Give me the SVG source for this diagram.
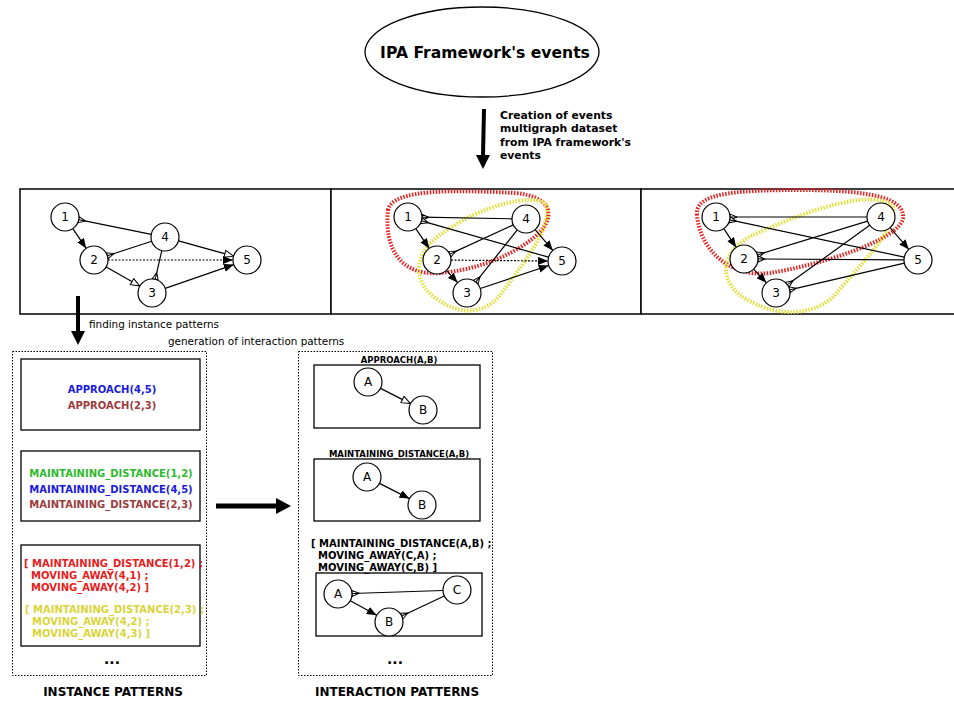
<svg xmlns="http://www.w3.org/2000/svg" width="954" height="702" viewBox="0 0 954 702">
<style>
  text { font-family: "DejaVu Sans", "Liberation Sans", sans-serif; fill: #000; }
  .nd circle { fill: #fff; stroke: #000; stroke-width: 1.2; }
  .nd text { font-size: 12px; text-anchor: middle; }
  .e { stroke: #000; stroke-width: 1.2; fill: none; }
  .f { marker-end: url(#arrF); }
  .o { marker-end: url(#arrO); }
  .m { marker-end: url(#away); }
  .dot { stroke-dasharray: 2 1.5; }
  .panel { fill: #fff; stroke: #000; stroke-width: 1.5; }
  .box { fill: #fff; stroke: #000; stroke-width: 1.3; }
  .dbox { fill: none; stroke: #000; stroke-width: 1; stroke-dasharray: 1.5 1.5; }
  .pt { font-size: 10px; font-weight: bold; }
  .title { font-size: 12px; font-weight: bold; text-anchor: middle; }
  .red { fill: none; stroke: #e62020; stroke-width: 4; stroke-dasharray: 1.5 1.5; }
  .yel { fill: none; stroke: #e3df3a; stroke-width: 4; stroke-dasharray: 1.5 1.5; }
</style>
<defs>
  <marker id="arrF" markerUnits="userSpaceOnUse" markerWidth="11" markerHeight="9" refX="10" refY="4" orient="auto">
    <path d="M0,0 L10,4 L0,8 z" fill="#000"/>
  </marker>
  <marker id="arrO" markerUnits="userSpaceOnUse" markerWidth="12" markerHeight="10" refX="10" refY="4.5" orient="auto">
    <path d="M1,1 L10,4.5 L1,8 z" fill="#fff" stroke="#000" stroke-width="1"/>
  </marker>
  <marker id="away" markerUnits="userSpaceOnUse" markerWidth="10" markerHeight="10" refX="8" refY="4" orient="auto">
    <path d="M1,4 L8,1 L8,7 z M1,4 L8,4" fill="#fff" stroke="#000" stroke-width="1"/>
  </marker>
</defs>

<!-- source ellipse -->
<g id="ipa">
  <ellipse cx="482" cy="52" rx="117" ry="45" fill="#fff" stroke="#000" stroke-width="1.3"/>
  <text x="485" y="58" font-size="15.6" font-weight="bold" text-anchor="middle">IPA Framework's events</text>
</g>

<!-- graph panels -->
<g id="panel-left"><rect class="panel" x="20" y="189" width="311" height="125"/></g>
<g id="panel-mid"><rect class="panel" x="331" y="189" width="310" height="125"/></g>
<g id="panel-right"><rect class="panel" x="641" y="189" width="320" height="125"/></g>

<!-- pattern containers -->
<g id="instance-boxes">
  <rect class="dbox" x="12.5" y="351.5" width="194" height="324"/>
  <rect class="box" x="21" y="359" width="179" height="71"/>
  <rect class="box" x="21" y="451" width="179" height="70"/>
  <rect class="box" x="21" y="545" width="179" height="101"/>
</g>
<g id="interaction-boxes">
  <rect class="dbox" x="298.5" y="351.5" width="194" height="324"/>
  <rect class="box" x="314" y="365" width="166" height="63"/>
  <rect class="box" x="314" y="459" width="166" height="62"/>
  <rect class="box" x="316" y="573" width="166" height="63"/>
</g>

<!-- highlighted instance regions -->
<g id="hulls">
  <path class="red" d="M388,210 C392,188 460,190 515,193 C550,196 556,214 540,232 C520,252 480,270 440,273 C400,276 384,248 388,210 Z"/>
  <path class="yel" d="M546,204 C532,193 480,205 440,235 C410,256 414,286 440,301 C462,316 487,313 501,294 C522,265 553,228 546,204 Z"/>
  <path class="red" d="M697,215 C695,194 730,190 800,190 C870,190 905,198 903,218 C900,240 820,265 770,273 C730,278 700,250 697,215 Z"/>
  <path class="yel" d="M892,205 C872,191 820,205 760,232 C715,250 718,286 750,301 C780,318 815,315 835,295 C860,265 902,224 892,205 Z"/>
</g>

<g id="connectors">
  <!-- main flow arrows -->
  <line x1="484" y1="109" x2="483" y2="156" stroke="#000" stroke-width="4"/>
  <path d="M476,155 L490,155 L483,169 z" fill="#000"/>
  <line x1="78" y1="296" x2="78" y2="333" stroke="#000" stroke-width="4"/>
  <path d="M71,331 L85,331 L78,345 z" fill="#000"/>
  <line x1="216" y1="506" x2="278" y2="506" stroke="#000" stroke-width="5"/>
  <path d="M276,498 L291,506 L276,514 z" fill="#000"/>

  <!-- left multigraph -->
  <line class="e f" x1="72.8" y1="228.6" x2="86.2" y2="248.4"/>
  <line class="e m" x1="151.3" y1="234.3" x2="78.7" y2="219.7"/>
  <line class="e m" x1="151.7" y1="241.3" x2="107.3" y2="255.7"/>
  <line class="e o" x1="178.5" y1="240.8" x2="233.5" y2="256.2"/>
  <line class="e f dot" x1="108" y1="260" x2="233" y2="260"/>
  <line class="e o" x1="106.2" y1="266.9" x2="139.8" y2="286.1"/>
  <line class="e m" x1="161.8" y1="250.6" x2="155.2" y2="279.4"/>
  <line class="e f" x1="165.2" y1="288.4" x2="233.8" y2="264.6"/>

  <!-- middle multigraph -->
  <line class="e f" x1="415.8" y1="228.6" x2="429.2" y2="248.4"/>
  <line class="e m" x1="512" y1="218.8" x2="422" y2="217.2"/>
  <line class="e m" x1="548.5" y1="257.2" x2="421.5" y2="220.8"/>
  <line class="e m" x1="513.3" y1="224.9" x2="449.7" y2="254.1"/>
  <line class="e f" x1="535.1" y1="229.6" x2="552.9" y2="250.4"/>
  <line class="e f dot" x1="451" y1="260.1" x2="548" y2="261"/>
  <line class="e f" x1="446.4" y1="270.4" x2="457.6" y2="282.6"/>
  <line class="e m" x1="517.3" y1="229.9" x2="475.7" y2="282.1"/>
  <line class="e f" x1="480.3" y1="288.5" x2="548.7" y2="265.5"/>

  <!-- right multigraph -->
  <line class="e f" x1="723.8" y1="228.6" x2="736.2" y2="247.4"/>
  <line class="e m" x1="867" y1="217" x2="730" y2="217"/>
  <line class="e m" x1="904.3" y1="257.1" x2="729.7" y2="219.9"/>
  <line class="e m" x1="867.6" y1="221.1" x2="757.4" y2="254.9"/>
  <line class="e m" x1="904" y1="259.9" x2="758" y2="259"/>
  <line class="e f" x1="890.1" y1="227.6" x2="908.9" y2="249.4"/>
  <line class="e f" x1="753.6" y1="269.2" x2="766.4" y2="282.8"/>
  <line class="e m" x1="869.7" y1="225.2" x2="787.3" y2="284.8"/>
  <line class="e m" x1="904.4" y1="263.2" x2="789.6" y2="289.8"/>

  <!-- interaction pattern edges -->
  <line class="e o" x1="380.5" y1="388.4" x2="410.5" y2="403.6"/>
  <line class="e f" x1="379.5" y1="483.4" x2="409.5" y2="498.6"/>
  <line class="e f" x1="350.3" y1="600.7" x2="376.7" y2="615.3"/>
  <line class="e m" x1="443" y1="590.5" x2="352" y2="593.5"/>
  <line class="e m" x1="444.3" y1="596" x2="401.7" y2="616"/>
</g>

<!-- flow labels -->
<g id="labels">
  <text x="500" y="119" font-size="10.8" font-weight="bold">Creation of events</text>
  <text x="500" y="132" font-size="10.8" font-weight="bold">multigraph dataset</text>
  <text x="500" y="146" font-size="10.8" font-weight="bold">from IPA framework's</text>
  <text x="500" y="159" font-size="10.8" font-weight="bold">events</text>
  <text x="89" y="328" font-size="10.4">finding instance patterns</text>
  <text x="168" y="345" font-size="10.4">generation of interaction patterns</text>
</g>

<!-- left graph nodes -->
<g id="L1" class="nd"><circle cx="65" cy="217" r="14"/><text x="65" y="221">1</text></g>
<g id="L2" class="nd"><circle cx="94" cy="260" r="14"/><text x="94" y="264">2</text></g>
<g id="L3" class="nd"><circle cx="152" cy="293" r="14"/><text x="152" y="297">3</text></g>
<g id="L4" class="nd"><circle cx="165" cy="237" r="14"/><text x="165" y="241">4</text></g>
<g id="L5" class="nd"><circle cx="247" cy="260" r="14"/><text x="247" y="264">5</text></g>

<!-- middle graph nodes -->
<g id="M1" class="nd"><circle cx="408" cy="217" r="14"/><text x="408" y="221">1</text></g>
<g id="M2" class="nd"><circle cx="437" cy="260" r="14"/><text x="437" y="264">2</text></g>
<g id="M3" class="nd"><circle cx="467" cy="293" r="14"/><text x="467" y="297">3</text></g>
<g id="M4" class="nd"><circle cx="526" cy="219" r="14"/><text x="526" y="223">4</text></g>
<g id="M5" class="nd"><circle cx="562" cy="261" r="14"/><text x="562" y="265">5</text></g>

<!-- right graph nodes -->
<g id="R1" class="nd"><circle cx="716" cy="217" r="14"/><text x="716" y="221">1</text></g>
<g id="R2" class="nd"><circle cx="744" cy="259" r="14"/><text x="744" y="263">2</text></g>
<g id="R3" class="nd"><circle cx="776" cy="293" r="14"/><text x="776" y="297">3</text></g>
<g id="R4" class="nd"><circle cx="881" cy="217" r="14"/><text x="881" y="221">4</text></g>
<g id="R5" class="nd"><circle cx="918" cy="260" r="14"/><text x="918" y="264">5</text></g>

<!-- instance pattern texts -->
<g id="instance-patterns">
  <text class="pt" x="112" y="393" text-anchor="middle" style="fill:#1a1adc">APPROACH(4,5)</text>
  <text class="pt" x="112" y="409" text-anchor="middle" style="fill:#9c3c3c">APPROACH(2,3)</text>
  <text class="pt" x="111" y="477" text-anchor="middle" style="fill:#2eb82e">MAINTAINING_DISTANCE(1,2)</text>
  <text class="pt" x="111" y="493" text-anchor="middle" style="fill:#1a1adc">MAINTAINING_DISTANCE(4,5)</text>
  <text class="pt" x="111" y="508" text-anchor="middle" style="fill:#9c3c3c">MAINTAINING_DISTANCE(2,3)</text>
  <text class="pt" x="24" y="567" style="fill:#e62020">[ MAINTAINING_DISTANCE(1,2) ;</text>
  <text class="pt" x="31" y="579" style="fill:#e62020">MOVING_AWAY(4,1) ;</text>
  <text class="pt" x="31" y="591" style="fill:#e62020">MOVING_AWAY(4,2) ]</text>
  <text class="pt" x="25" y="613" style="fill:#d9d43a">[ MAINTAINING_DISTANCE(2,3) ;</text>
  <text class="pt" x="32" y="625" style="fill:#d9d43a">MOVING_AWAY(4,2) ;</text>
  <text class="pt" x="32" y="637" style="fill:#d9d43a">MOVING_AWAY(4,3) ]</text>
  <text x="112" y="664" font-size="14" font-weight="bold" text-anchor="middle">...</text>
  <text class="title" x="113" y="696">INSTANCE PATTERNS</text>
</g>

<!-- interaction pattern texts -->
<g id="interaction-patterns">
  <text x="399" y="363" font-size="8.5" font-weight="bold" text-anchor="middle">APPROACH(A,B)</text>
  <text x="399" y="457" font-size="8.5" font-weight="bold" text-anchor="middle">MAINTAINING_DISTANCE(A,B)</text>
  <text x="311" y="547" font-size="10" font-weight="bold">[ MAINTAINING_DISTANCE(A,B) ;</text>
  <text x="318" y="559" font-size="10" font-weight="bold">MOVING_AWAY(C,A) ;</text>
  <text x="318" y="571" font-size="10" font-weight="bold">MOVING_AWAY(C,B) ]</text>
  <text x="395" y="664" font-size="14" font-weight="bold" text-anchor="middle">...</text>
  <text class="title" x="397" y="696">INTERACTION PATTERNS</text>
</g>
<g id="IA1" class="nd"><circle cx="368" cy="382" r="14"/><text x="368" y="386">A</text></g>
<g id="IB1" class="nd"><circle cx="423" cy="410" r="14"/><text x="423" y="414">B</text></g>
<g id="IA2" class="nd"><circle cx="367" cy="477" r="14"/><text x="367" y="481">A</text></g>
<g id="IB2" class="nd"><circle cx="422" cy="505" r="14"/><text x="422" y="509">B</text></g>
<g id="IA3" class="nd"><circle cx="338" cy="594" r="14"/><text x="338" y="598">A</text></g>
<g id="IB3" class="nd"><circle cx="389" cy="622" r="14"/><text x="389" y="626">B</text></g>
<g id="IC3" class="nd"><circle cx="457" cy="590" r="14"/><text x="457" y="594">C</text></g>
</svg>
